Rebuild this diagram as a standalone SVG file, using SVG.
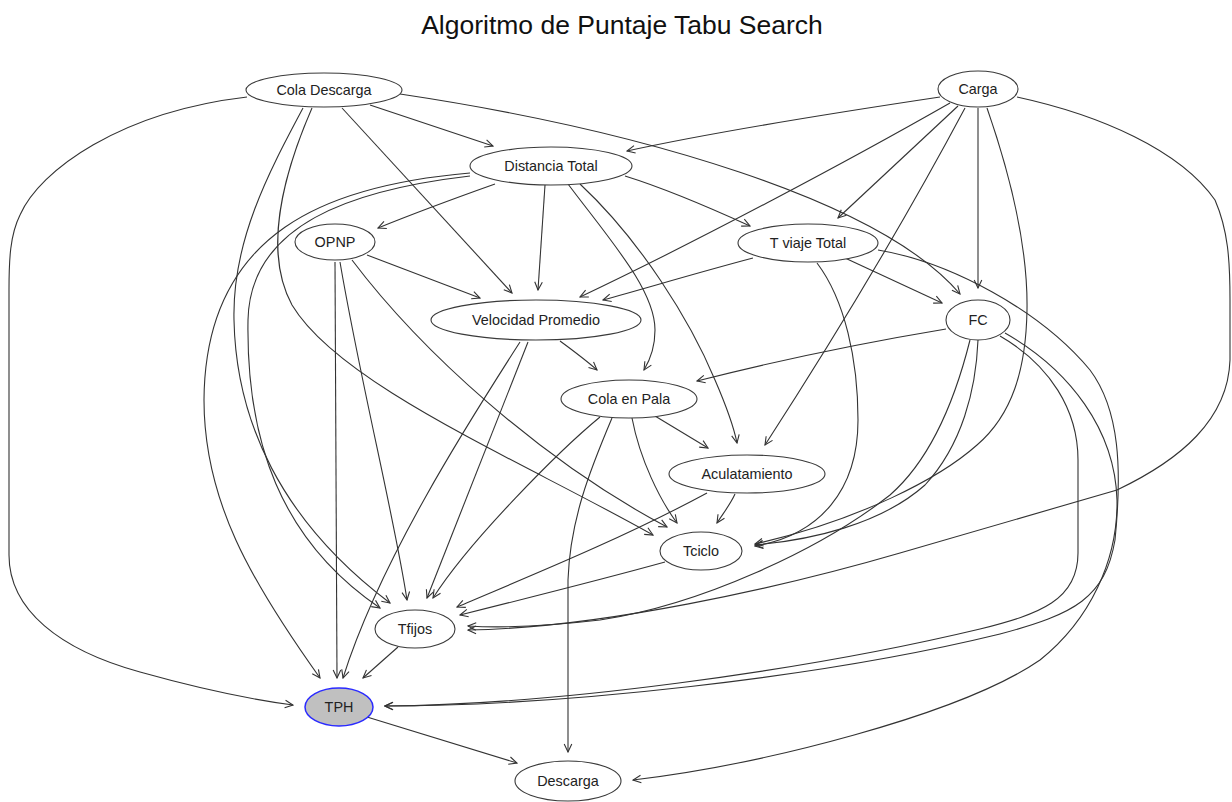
<svg xmlns="http://www.w3.org/2000/svg" width="1232" height="802" viewBox="0 0 1232 802">
  <defs>
    <marker id="arr" markerWidth="10" markerHeight="10" refX="9" refY="5" orient="auto" markerUnits="userSpaceOnUse">
      <path d="M1,1.2 L9,5 L1,8.8" fill="none" stroke="#333" stroke-width="1.1"/>
    </marker>
    <style>
      .title { font-family: "Liberation Sans", Arial, sans-serif; font-size: 26.5px; fill: #111; text-anchor: middle; }
      .node ellipse { fill: #fff; stroke: #3a3a3a; stroke-width: 1.1; }
      .node text { font-family: "Liberation Sans", Arial, sans-serif; font-size: 14.4px; fill: #222; text-anchor: middle; }
      #tph ellipse { fill: #c0c0c0; stroke: #2a2aff; stroke-width: 1.5; }
      #edges path { fill: none; stroke: #333; stroke-width: 1.1; marker-end: url(#arr); }
    </style>
  </defs>

  <rect width="1232" height="802" fill="#fff"/>
  <text class="title" x="622" y="34">Algoritmo de Puntaje Tabu Search</text>

  <g id="edges">
    <!-- Cola Descarga -->
    <path d="M370,105 L493,146"/>
    <path d="M400,94 C640,130 880,200 960,294"/>
    <path d="M247,97 C120,112 40,170 20,215 C10,235 9,260 9,290 L9,555 C9,610 60,650 140,672 C190,686 240,698 293,705"/>
    <path d="M342,108 L512,293"/>
    <path d="M312,108 C285,170 262,250 292,305 C340,385 520,460 653,535"/>
    <path d="M303,108 C270,170 232,240 234,320 C236,420 280,520 390,603"/>

    <!-- Carga -->
    <path d="M940,97 C820,115 700,135 627,151"/>
    <path d="M950,103 C850,160 700,240 580,297"/>
    <path d="M958,106 L838,218"/>
    <path d="M978,108 L978,288"/>
    <path d="M965,108 C900,230 820,360 765,445"/>
    <path d="M987,108 C1012,180 1028,250 1027,310 C1026,370 1012,415 977,445 C940,478 860,520 755,544"/>
    <path d="M1017,97 C1100,115 1180,150 1215,200 C1228,230 1230,260 1230,300 L1230,360 C1228,420 1180,460 1117,490 L900,553 C780,588 600,628 468,630"/>

    <!-- Distancia Total -->
    <path d="M495,184 C450,200 410,215 378,228"/>
    <path d="M545,185 C542,230 540,260 538,290"/>
    <path d="M625,176 C670,190 715,210 750,226"/>
    <path d="M568,184 C610,240 655,290 655,330 C655,348 650,360 644,370"/>
    <path d="M580,184 C640,240 690,320 715,380 C728,410 734,428 737,443"/>
    <path d="M470,173 C330,185 205,230 204,400 C204,500 250,580 320,678"/>
    <path d="M470,176 C350,190 250,225 248,320 C246,440 280,540 380,608"/>

    <!-- OPNP -->
    <path d="M367,255 L480,298"/>
    <path d="M335,262 L337,678"/>
    <path d="M340,262 C360,380 395,520 407,600"/>
    <path d="M352,260 C420,350 540,460 667,527"/>

    <!-- T viaje Total -->
    <path d="M753,258 C700,272 650,287 603,300"/>
    <path d="M845,258 L942,303"/>
    <path d="M817,263 C845,300 858,360 858,420 C858,490 820,535 755,546"/>
    <path d="M878,250 C950,262 1040,310 1090,370 C1120,410 1122,470 1115,540 C1105,598 1075,614 1000,634 C820,678 560,706 385,706"/>

    <!-- Velocidad Promedio -->
    <path d="M560,341 C575,352 588,362 597,370"/>
    <path d="M520,342 C470,420 380,560 343,678"/>
    <path d="M528,342 L427,598"/>

    <!-- FC -->
    <path d="M946,329 C850,345 760,365 697,381"/>
    <path d="M978,340 C976,390 962,445 925,485 C880,525 810,540 755,545"/>
    <path d="M970,340 C955,400 930,460 890,495 C820,550 700,605 600,620 C540,627 500,628 468,626"/>
    <path d="M1000,336 C1050,365 1078,410 1078,460 L1078,553 C1078,600 1040,614 980,629 C800,672 550,705 385,706"/>
    <path d="M1005,333 C1070,370 1115,430 1117,500 C1118,560 1090,620 1040,660 C960,715 760,765 633,780"/>

    <!-- Cola en Pala -->
    <path d="M655,416 L708,448"/>
    <path d="M632,418 C640,460 660,500 677,523"/>
    <path d="M600,417 C560,450 470,540 433,598"/>
    <path d="M612,418 C590,470 570,520 568,580 L568,752"/>

    <!-- Aculatamiento -->
    <path d="M735,494 C730,505 722,515 717,523"/>
    <path d="M707,493 C620,540 520,580 457,607"/>

    <!-- Tciclo -->
    <path d="M665,562 C600,580 520,600 460,615"/>

    <!-- Tfijos -->
    <path d="M398,647 L363,678"/>

    <!-- TPH -->
    <path d="M367,717 L517,763"/>
  </g>

  <g id="cola_descarga" class="node">
    <ellipse cx="324" cy="90" rx="78" ry="17"/>
    <text x="324" y="95">Cola Descarga</text>
  </g>
  <g id="carga" class="node">
    <ellipse cx="978" cy="89" rx="40" ry="18"/>
    <text x="978" y="94">Carga</text>
  </g>
  <g id="distancia_total" class="node">
    <ellipse cx="551" cy="166" rx="81" ry="19"/>
    <text x="551" y="171">Distancia Total</text>
  </g>
  <g id="opnp" class="node">
    <ellipse cx="335" cy="242" rx="40" ry="18"/>
    <text x="335" y="247">OPNP</text>
  </g>
  <g id="t_viaje_total" class="node">
    <ellipse cx="808" cy="243" rx="70" ry="19"/>
    <text x="808" y="248">T viaje Total</text>
  </g>
  <g id="velocidad_promedio" class="node">
    <ellipse cx="536" cy="320" rx="105" ry="20"/>
    <text x="536" y="325">Velocidad Promedio</text>
  </g>
  <g id="fc" class="node">
    <ellipse cx="978" cy="320" rx="32" ry="20"/>
    <text x="978" y="325">FC</text>
  </g>
  <g id="cola_en_pala" class="node">
    <ellipse cx="629" cy="399" rx="68" ry="19"/>
    <text x="629" y="404">Cola en Pala</text>
  </g>
  <g id="aculatamiento" class="node">
    <ellipse cx="747" cy="474" rx="78" ry="19"/>
    <text x="747" y="479">Aculatamiento</text>
  </g>
  <g id="tciclo" class="node">
    <ellipse cx="701" cy="551" rx="41" ry="19"/>
    <text x="701" y="556">Tciclo</text>
  </g>
  <g id="tfijos" class="node">
    <ellipse cx="415" cy="629" rx="40" ry="19"/>
    <text x="415" y="634">Tfijos</text>
  </g>
  <g id="tph" class="node">
    <ellipse cx="339" cy="707" rx="34" ry="19"/>
    <text x="339" y="712">TPH</text>
  </g>
  <g id="descarga" class="node">
    <ellipse cx="568" cy="781" rx="53" ry="20"/>
    <text x="568" y="786">Descarga</text>
  </g>
</svg>
